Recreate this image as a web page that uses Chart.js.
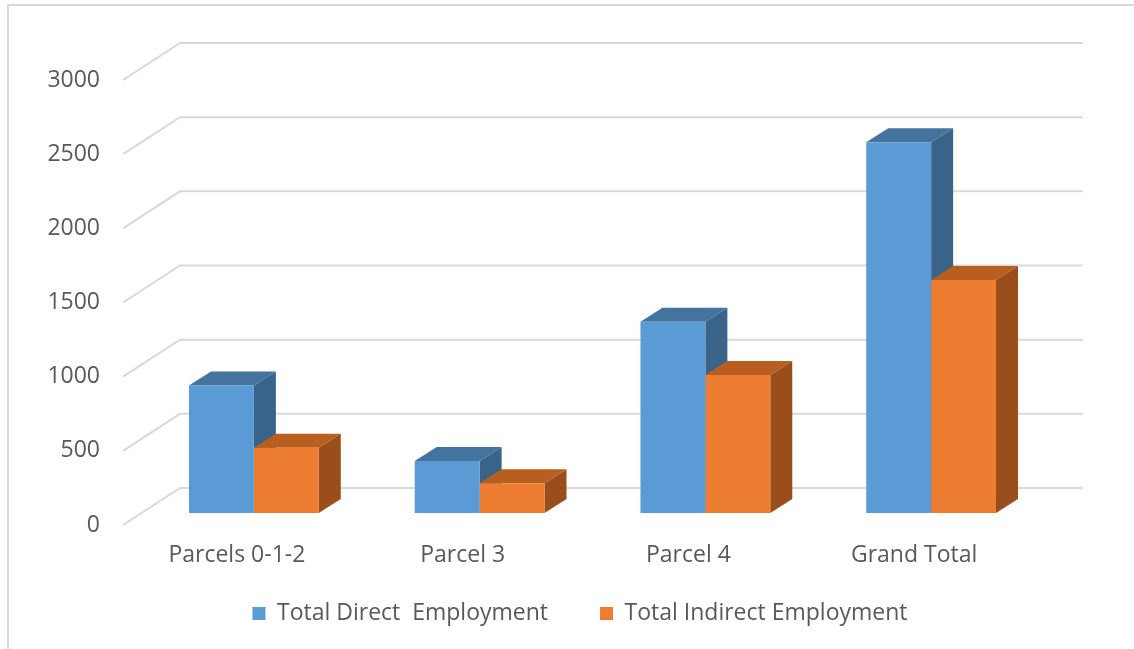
<!DOCTYPE html>
<html>
<head>
<meta charset="utf-8">
<title>Employment by parcel</title>
<script src="https://cdn.jsdelivr.net/npm/chart.js@4/dist/chart.umd.min.js"></script>
<style>
  html, body { margin: 0; padding: 0; background: #ffffff; }
  canvas { display: block; }
</style>
</head>
<body>
<canvas id="employment" width="1134" height="649"></canvas>
<script>
// ---- data ----
const categories = ["Parcels 0-1-2", "Parcel 3", "Parcel 4", "Grand Total"];
const directEmployment = [860, 350, 1290, 2500];
const indirectEmployment = [440, 200, 930, 1570];
const seriesNames = ["Total Direct  Employment", "Total Indirect Employment"];
const yTicks = [0, 500, 1000, 1500, 2000, 2500, 3000];

// ---- look ----
const FONT = "'Open Sans', Lato, sans-serif";
const TEXT = "#595959";
const GRID = "#d9d9d9";

// front / top / side shades for each series
const shades = [
    { front: "#5b9bd5", top: "#45739f", side: "#3a6389" },
    { front: "#ed7d31", top: "#b85f20", side: "#9a4e1b" }
];

// bar extrusion and floor offsets, relative to the bar front plane
const BAR_DX = 22, BAR_DY = -14;
const FLOOR_FRONT = { dx: -18, dy: 12 };
const FLOOR_BACK = { dx: 39, dy: -25 };

/* -------------------------------------------------------
   Frame: thin top and left rule round the chart
------------------------------------------------------- */
const framePlugin = {
    id: "frame",
    beforeDraw(chart) {
        const { ctx, width, height } = chart;
        ctx.save();
        ctx.fillStyle = "#ffffff";
        ctx.fillRect(0, 0, width, height);
        ctx.strokeStyle = GRID;
        ctx.lineWidth = 2;
        ctx.beginPath();
        ctx.moveTo(8, height);
        ctx.lineTo(8, 5);
        ctx.lineTo(width, 5);
        ctx.stroke();
        ctx.restore();
    }
};

/* -------------------------------------------------------
   Walls: side wall diagonals + back wall gridlines
------------------------------------------------------- */
const wallsPlugin = {
    id: "walls",
    beforeDatasetsDraw(chart) {
        const { ctx, chartArea } = chart;
        const y = chart.scales.y;
        ctx.save();
        ctx.strokeStyle = GRID;
        ctx.lineWidth = 2;
        y.ticks.forEach(t => {
            const py = y.getPixelForValue(t.value);
            ctx.beginPath();
            ctx.moveTo(chartArea.left + FLOOR_FRONT.dx, py + FLOOR_FRONT.dy);
            ctx.lineTo(chartArea.left + FLOOR_BACK.dx, py + FLOOR_BACK.dy);
            ctx.lineTo(chartArea.right + FLOOR_BACK.dx, py + FLOOR_BACK.dy);
            ctx.stroke();
        });
        ctx.restore();
    }
};

/* -------------------------------------------------------
   Box faces: top and right side of every bar
------------------------------------------------------- */
function poly(ctx, pts, fill) {
    ctx.beginPath();
    ctx.moveTo(pts[0][0], pts[0][1]);
    for (let i = 1; i < pts.length; i++) ctx.lineTo(pts[i][0], pts[i][1]);
    ctx.closePath();
    ctx.fillStyle = fill;
    ctx.fill();
}

const boxPlugin = {
    id: "box3d",
    beforeDatasetsDraw(chart) {
        const { ctx } = chart;
        ctx.save();
        chart.data.datasets.forEach((ds, di) => {
            const meta = chart.getDatasetMeta(di);
            const sh = shades[di];
            meta.data.forEach(bar => {
                const { x, y, base, width } = bar.getProps(["x", "y", "base", "width"], true);
                const l = x - width / 2, r = x + width / 2;
                // side
                poly(ctx, [[r, y], [r + BAR_DX, y + BAR_DY], [r + BAR_DX, base + BAR_DY], [r, base]], sh.side);
                // top
                poly(ctx, [[l, y], [r, y], [r + BAR_DX, y + BAR_DY], [l + BAR_DX, y + BAR_DY]], sh.top);
            });
        });
        ctx.restore();
    }
};

const ctx = document.getElementById("employment");

new Chart(ctx, {
    type: "bar",
    data: {
        labels: categories,
        datasets: [
            {
                label: seriesNames[0],
                data: directEmployment,
                backgroundColor: shades[0].front,
                borderWidth: 0
            },
            {
                label: seriesNames[1],
                data: indirectEmployment,
                backgroundColor: shades[1].front,
                borderWidth: 0
            }
        ]
    },
    plugins: [framePlugin, wallsPlugin, boxPlugin],
    options: {
        responsive: false,
        animation: false,
        devicePixelRatio: 1,
        layout: { padding: { left: 41, right: 15, top: 68, bottom: 14 } },
        datasets: {
            bar: { categoryPercentage: 0.575, barPercentage: 1.0 }
        },
        scales: {
            x: {
                grid: { display: false, drawTicks: false },
                border: { display: false },
                ticks: {
                    color: TEXT,
                    font: { family: FONT, size: 23 },
                    // mirrored labels are not clipped to the axis box,
                    // negative padding pushes them back below the floor
                    mirror: true,
                    padding: -56,
                    labelOffset: -17,
                    maxRotation: 0
                },
                afterFit(scale) { scale.height = 37; }
            },
            y: {
                min: 0,
                max: 3000,
                afterBuildTicks(scale) {
                    scale.ticks = yTicks.map(v => ({ value: v }));
                },
                grid: { display: false, drawTicks: false },
                border: { display: false },
                ticks: {
                    color: TEXT,
                    font: { family: FONT, size: 23 },
                    padding: 41,
                    labelOffset: 12,
                    callback: v => String(v)
                },
                afterFit(scale) { scale.width = 100; }
            },
            // empty right-hand margin, keeps the legend centred under the walls
            yMargin: {
                position: "right",
                grid: { display: false, drawTicks: false },
                border: { display: false },
                ticks: { display: false },
                afterFit(scale) { scale.width = 75; }
            }
        },
        plugins: {
            tooltip: { enabled: false },
            legend: {
                position: "bottom",
                labels: {
                    color: TEXT,
                    font: { family: FONT, size: 23 },
                    boxWidth: 13,
                    boxHeight: 13,
                    padding: 52
                }
            }
        }
    }
});
</script>
</body>
</html>
